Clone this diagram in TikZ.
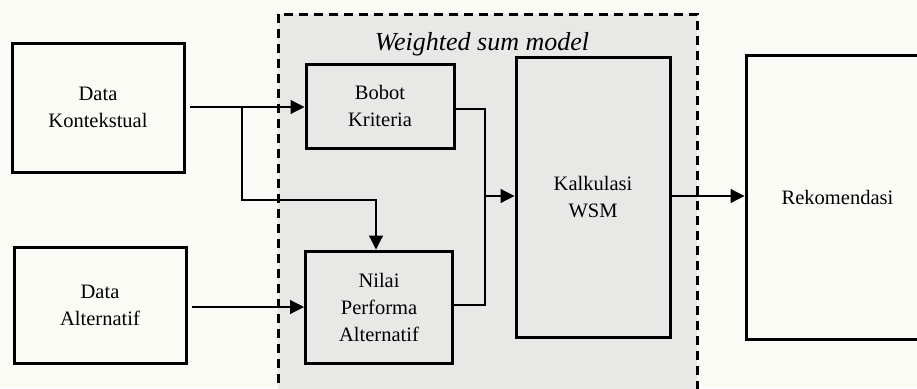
\documentclass[tikz,border=0pt]{standalone}
\usepackage{fontspec}
\setmainfont{Liberation Serif}
\usetikzlibrary{arrows.meta}
\definecolor{bgc}{RGB}{251,251,246}
\definecolor{regc}{RGB}{232,233,231}
\tikzset{
  box/.style={draw=black, line width=3pt, align=center, inner sep=0pt,
    font=\fontsize{20.5}{27}\selectfont},
  conn/.style={draw=black, line width=1.2pt},
  arr/.style={conn, -{Triangle[length=14pt,width=14pt]}},
  region/.style={draw=black, fill=regc, line width=3pt, dash pattern=on 9pt off 6pt},
}
\begin{document}
\begin{tikzpicture}[x=1pt,y=-1pt]
\useasboundingbox (0,0) rectangle (917,388);
\fill[bgc] (0,0) rectangle (917,388);
\draw[region] (278,14) rectangle (697,420);
\node[font=\fontsize{26}{30}\selectfont\itshape, anchor=base] (title) at (482,50) {Weighted sum model};
\node[box, fill=bgc, minimum width=172pt, minimum height=129pt] (dk) at (98,107.5) {Data\\Kontekstual};
\node[box, fill=bgc, minimum width=172pt, minimum height=116pt] (da) at (100,305) {Data\\Alternatif};
\node[box, fill=regc, minimum width=148pt, minimum height=84pt] (bk) at (380,106) {Bobot\\Kriteria};
\node[box, fill=regc, minimum width=147pt, minimum height=112pt] (np) at (379,307) {Nilai\\Performa\\Alternatif};
\node[box, fill=regc, minimum width=154pt, minimum height=280pt] (kw) at (593,197) {Kalkulasi\\WSM};
\node[box, fill=bgc, minimum width=183pt, minimum height=284pt] (rk) at (837.5,197) {Rekomendasi};
\coordinate (j1) at (242,107);
\coordinate (jt) at (376,200);
\coordinate (mx) at (485,196);
\draw[arr, shorten <=4pt] (dk.east |- j1) -- (bk.west |- j1);
\draw[arr] (j1) |- (jt) -- (jt |- np.north);
\draw[arr, shorten <=4pt] (da.east |- np.west) -- (np.west);
\draw[conn] ([yshift=-3pt]bk.east) -| (mx) |- ([yshift=2pt]np.east);
\draw[arr] (mx) -- (mx -| kw.west);
\draw[arr] (mx -| kw.east) -- (mx -| rk.west);
\end{tikzpicture}
\end{document}
